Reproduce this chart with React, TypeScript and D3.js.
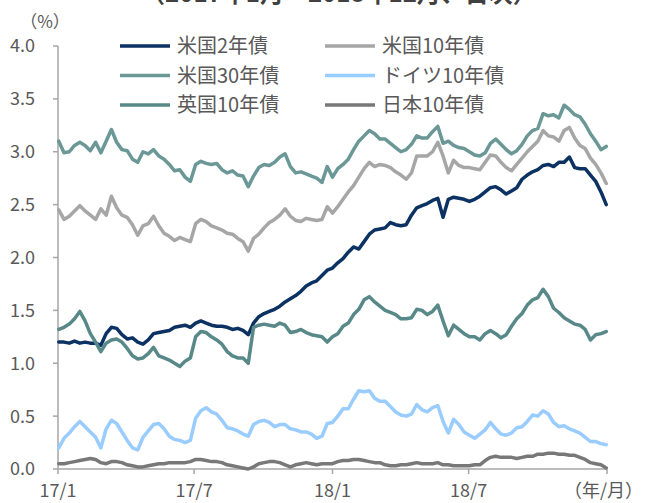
import React from 'react';
import * as d3 from 'd3';

// weekly readings, 2017/1/2 .. 2018/12/31 (%)
const us2 = [
  1.20, 1.20, 1.19, 1.21, 1.19, 1.20, 1.19, 1.19, 1.17, 1.28, 1.34, 1.33, 1.27, 1.23, 1.24, 1.20, 1.18, 1.22, 1.28, 1.29,
  1.30, 1.31, 1.34, 1.35, 1.36, 1.34, 1.38, 1.40, 1.38, 1.36, 1.35, 1.35, 1.34, 1.32, 1.33, 1.31, 1.27, 1.38, 1.44, 1.47,
  1.49, 1.51, 1.54, 1.58, 1.61, 1.64, 1.68, 1.73, 1.76, 1.78, 1.83, 1.88, 1.90, 1.95, 1.99, 2.05, 2.10, 2.08, 2.15, 2.22,
  2.26, 2.27, 2.28, 2.33, 2.31, 2.30, 2.31, 2.40, 2.47, 2.49, 2.51, 2.54, 2.56, 2.38, 2.55, 2.57, 2.56, 2.55, 2.53, 2.55,
  2.58, 2.62, 2.66, 2.67, 2.64, 2.60, 2.63, 2.66, 2.74, 2.78, 2.81, 2.83, 2.87, 2.88, 2.86, 2.90, 2.90, 2.95, 2.85, 2.84,
  2.84, 2.78, 2.72, 2.62, 2.50,
];
const us10 = [
  2.45, 2.36, 2.39, 2.44, 2.49, 2.44, 2.40, 2.36, 2.46, 2.40, 2.58, 2.47, 2.40, 2.38, 2.31, 2.21, 2.30, 2.32, 2.39, 2.30,
  2.23, 2.20, 2.16, 2.19, 2.17, 2.15, 2.32, 2.36, 2.34, 2.30, 2.28, 2.26, 2.23, 2.22, 2.18, 2.15, 2.06, 2.18, 2.22, 2.28,
  2.33, 2.36, 2.40, 2.46, 2.39, 2.35, 2.34, 2.37, 2.36, 2.35, 2.36, 2.48, 2.42, 2.48, 2.55, 2.62, 2.68, 2.76, 2.84, 2.90,
  2.86, 2.88, 2.87, 2.85, 2.81, 2.78, 2.74, 2.80, 2.96, 2.96, 2.96, 3.00, 3.09, 2.96, 2.80, 2.92, 2.87, 2.85, 2.85, 2.84,
  2.83, 2.90, 2.97, 2.96, 2.90, 2.85, 2.82, 2.88, 2.94, 3.00, 3.05, 3.10, 3.20, 3.15, 3.14, 3.10, 3.20, 3.23, 3.13, 3.06,
  3.03, 2.94, 2.88, 2.80, 2.70,
];
const us30 = [
  3.10, 2.99, 3.00, 3.06, 3.09, 3.06, 3.01, 3.09, 2.99, 3.10, 3.21, 3.09, 3.02, 3.01, 2.93, 2.90, 3.00, 2.98, 3.02, 2.96,
  2.93, 2.88, 2.82, 2.83, 2.76, 2.72, 2.88, 2.91, 2.89, 2.88, 2.89, 2.83, 2.80, 2.82, 2.78, 2.77, 2.67, 2.77, 2.85, 2.88,
  2.87, 2.90, 2.95, 2.98, 2.86, 2.80, 2.81, 2.79, 2.77, 2.75, 2.71, 2.86, 2.76, 2.84, 2.88, 2.93, 3.02, 3.10, 3.15, 3.20,
  3.17, 3.12, 3.12, 3.08, 3.04, 3.00, 3.02, 3.07, 3.15, 3.13, 3.13, 3.19, 3.24, 3.08, 3.10, 3.06, 3.04, 3.03, 3.00, 2.97,
  2.96, 2.99, 3.08, 3.12, 3.07, 3.02, 2.98, 3.01, 3.07, 3.15, 3.20, 3.22, 3.36, 3.34, 3.35, 3.32, 3.44, 3.40, 3.35, 3.33,
  3.26, 3.17, 3.10, 3.02, 3.05,
];
const de10 = [
  0.20, 0.29, 0.34, 0.40, 0.45, 0.40, 0.35, 0.30, 0.20, 0.38, 0.46, 0.43, 0.35, 0.27, 0.20, 0.18, 0.30, 0.36, 0.42, 0.43,
  0.38, 0.31, 0.28, 0.27, 0.25, 0.27, 0.48, 0.55, 0.58, 0.54, 0.52, 0.46, 0.39, 0.38, 0.36, 0.33, 0.31, 0.42, 0.45, 0.46,
  0.44, 0.40, 0.42, 0.42, 0.38, 0.37, 0.35, 0.35, 0.33, 0.29, 0.31, 0.43, 0.44, 0.50, 0.57, 0.57, 0.66, 0.74, 0.73, 0.74,
  0.67, 0.64, 0.64, 0.59, 0.54, 0.51, 0.50, 0.52, 0.61, 0.56, 0.54, 0.58, 0.60, 0.45, 0.34, 0.47, 0.42, 0.35, 0.32, 0.29,
  0.33, 0.37, 0.44, 0.38, 0.33, 0.32, 0.34, 0.39, 0.40, 0.45, 0.51, 0.50, 0.55, 0.52, 0.44, 0.40, 0.41, 0.38, 0.36, 0.34,
  0.30, 0.26, 0.26, 0.24, 0.23,
];
const uk10 = [
  1.32, 1.34, 1.37, 1.42, 1.49, 1.40, 1.28, 1.20, 1.11, 1.19, 1.22, 1.23, 1.20, 1.14, 1.07, 1.04, 1.05, 1.09, 1.15, 1.07,
  1.05, 1.03, 1.00, 0.97, 1.02, 1.05, 1.25, 1.30, 1.29, 1.25, 1.22, 1.18, 1.11, 1.07, 1.05, 1.05, 1.00, 1.34, 1.36, 1.37,
  1.36, 1.35, 1.38, 1.36, 1.29, 1.30, 1.32, 1.29, 1.27, 1.26, 1.25, 1.20, 1.25, 1.28, 1.35, 1.38, 1.46, 1.51, 1.60, 1.63,
  1.58, 1.54, 1.50, 1.48, 1.46, 1.42, 1.42, 1.43, 1.51, 1.50, 1.46, 1.49, 1.55, 1.40, 1.26, 1.36, 1.32, 1.28, 1.25, 1.25,
  1.22, 1.28, 1.31, 1.28, 1.24, 1.27, 1.35, 1.42, 1.47, 1.55, 1.60, 1.62, 1.70, 1.63, 1.52, 1.48, 1.43, 1.40, 1.37, 1.36,
  1.32, 1.22, 1.27, 1.28, 1.30,
];
const jp10 = [
  0.05, 0.05, 0.06, 0.07, 0.08, 0.09, 0.10, 0.09, 0.06, 0.05, 0.07, 0.07, 0.06, 0.04, 0.03, 0.02, 0.02, 0.03, 0.04, 0.05,
  0.05, 0.06, 0.06, 0.06, 0.06, 0.07, 0.09, 0.09, 0.08, 0.07, 0.07, 0.06, 0.04, 0.03, 0.02, 0.01, 0.00, 0.02, 0.05, 0.06,
  0.07, 0.07, 0.06, 0.04, 0.02, 0.04, 0.05, 0.06, 0.05, 0.04, 0.05, 0.05, 0.05, 0.07, 0.08, 0.08, 0.09, 0.09, 0.08, 0.07,
  0.06, 0.06, 0.04, 0.03, 0.03, 0.04, 0.04, 0.05, 0.06, 0.05, 0.05, 0.05, 0.06, 0.04, 0.04, 0.03, 0.03, 0.03, 0.03, 0.04,
  0.04, 0.08, 0.11, 0.12, 0.11, 0.11, 0.11, 0.10, 0.11, 0.12, 0.12, 0.14, 0.14, 0.15, 0.15, 0.14, 0.14, 0.13, 0.13, 0.11,
  0.09, 0.06, 0.05, 0.04, 0.01,
];

const seriesNames = ['米国2年債', '米国10年債', '米国30年債', 'ドイツ10年債', '英国10年債', '日本10年債'];
const seriesValues = [us2, us10, us30, de10, uk10, jp10];
const seriesColors = ['#0b3262', '#a6a6a6', '#6b9797', '#99ccff', '#588888', '#787878'];

const yTicks = [0, 0.5, 1, 1.5, 2, 2.5, 3, 3.5, 4];
const xTickDates = [new Date(2017, 0, 1), new Date(2017, 6, 1), new Date(2018, 0, 1), new Date(2018, 6, 1), new Date(2019, 0, 1)];
const xTickLabels = ['17/1', '17/7', '18/1', '18/7', ''];

const W = 645;
const H = 503;
const FONT = '"Noto Sans CJK JP", "Noto Sans", sans-serif';
const AXIS = '#a6a6a6';
const TEXT = '#595959';

const START = new Date(2017, 0, 2);

export default function App() {
  const x = d3.scaleTime()
    .domain([new Date(2017, 0, 1), new Date(2019, 0, 1)])
    .range([58, 607]);
  const y = d3.scaleLinear().domain([0, 4]).range([469, 46]);

  const dates = us2.map((_, i) => d3.timeDay.offset(START, i * 7));
  const line = d3.line<number>()
    .x((_, i) => x(dates[i]))
    .y(d => y(d));

  return (
    <svg width={W} height={H} style={{ position: 'absolute', left: 0, top: 0, background: '#fff' }} fontFamily={FONT}>
      {/* title, mostly cut off at the top as in the source */}
      <text x={339} y={2} textAnchor="middle" fontSize={24} fontWeight="bold" fill="#404040">
        （2017年1月～2018年12月、日次）
      </text>
      <text x={45} y={28} textAnchor="middle" fontSize={17} fill={TEXT}>（%）</text>

      {/* y axis */}
      <line x1={58} x2={58} y1={y(4)} y2={y(0)} stroke={AXIS} strokeWidth={1.5} />
      {yTicks.map(t => (
        <g key={t}>
          <line x1={53} x2={58} y1={y(t)} y2={y(t)} stroke={AXIS} strokeWidth={1.5} />
          <text x={35} y={y(t)} dy="0.36em" textAnchor="end" fontSize={18} fill={TEXT}>{t.toFixed(1)}</text>
        </g>
      ))}

      {/* x axis */}
      <line x1={x(xTickDates[0])} x2={x(xTickDates[4])} y1={y(0)} y2={y(0)} stroke={AXIS} strokeWidth={1.5} />
      {xTickDates.map((d, i) => (
        <g key={i}>
          <line x1={x(d)} x2={x(d)} y1={y(0)} y2={y(0) + 5} stroke={AXIS} strokeWidth={1.5} />
          <text x={x(d)} y={497} textAnchor="middle" fontSize={18} fill={TEXT}>{xTickLabels[i]}</text>
        </g>
      ))}
      <text x={643} y={497} textAnchor="end" fontSize={18} fill={TEXT}>（年/月）</text>

      {/* series */}
      {seriesValues.map((vals, i) => (
        <path key={seriesNames[i]} d={line(vals) || ''} fill="none" stroke={seriesColors[i]}
          strokeWidth={3.5} strokeLinejoin="round" strokeLinecap="round" />
      ))}

      {/* legend */}
      {seriesNames.map((name, i) => {
        const col = i % 2;
        const row = Math.floor(i / 2);
        const lx = col === 0 ? 120 : 325;
        const ly = 46 + row * 29.5;
        return (
          <g key={name}>
            <line x1={lx} x2={lx + 50} y1={ly} y2={ly} stroke={seriesColors[i]} strokeWidth={3.5} />
            <text x={lx + 57} y={ly} dy="0.36em" fontSize={20} fill={TEXT}>{name}</text>
          </g>
        );
      })}
    </svg>
  );
}
